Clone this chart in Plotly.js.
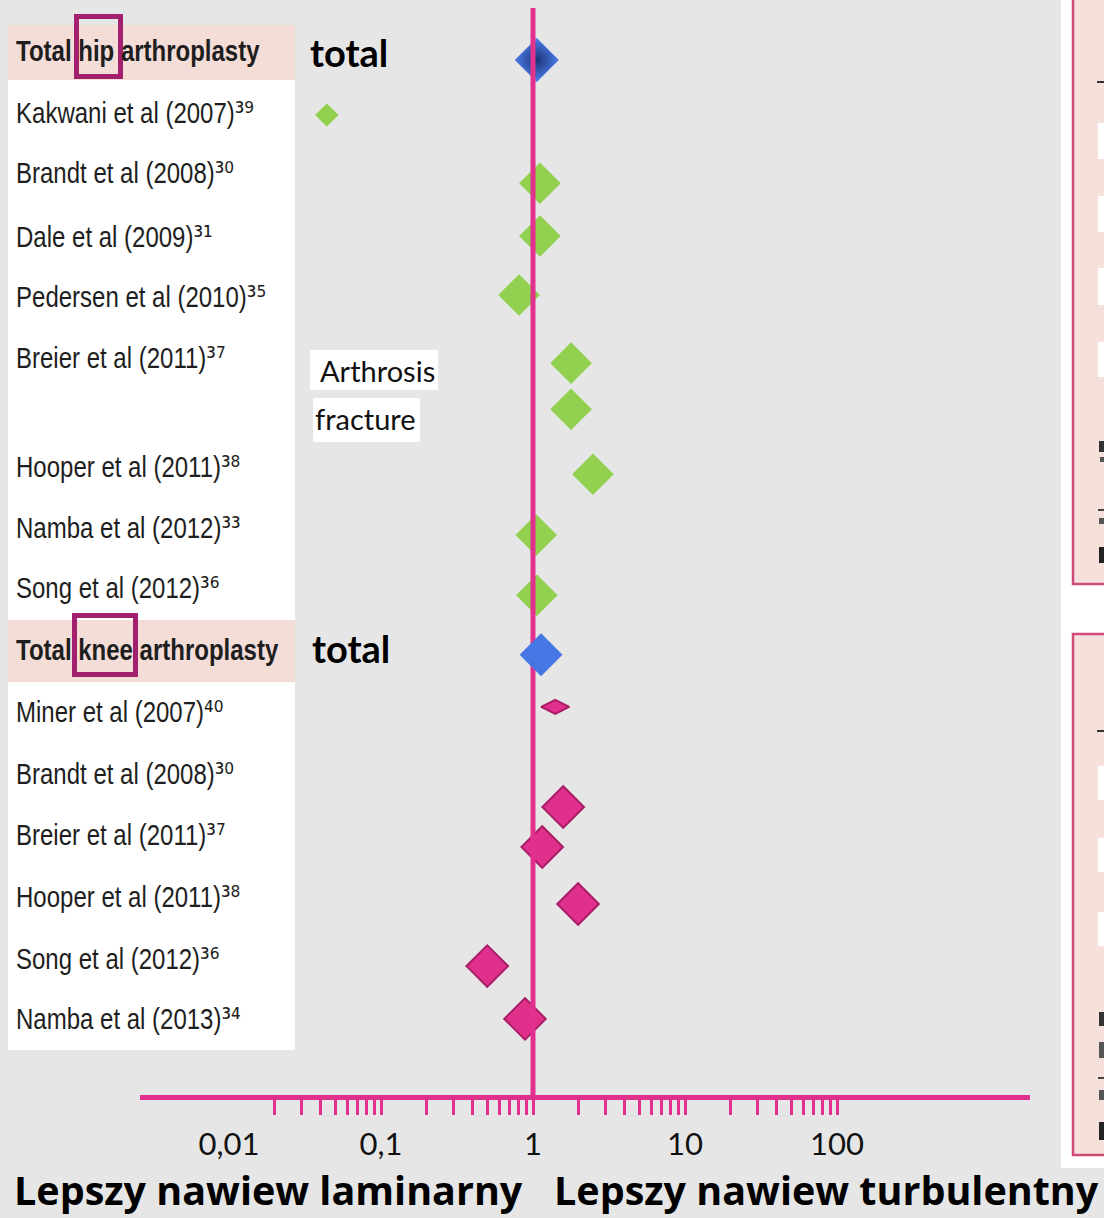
<!DOCTYPE html>
<html>
<head>
<meta charset="utf-8">
<script src="https://cdn.plot.ly/plotly-3.0.1.min.js"></script>
<style>
  html, body { margin: 0; padding: 0; background: #e6e6e6; }
  #chart { width: 1104px; height: 1218px; }
</style>
</head>
<body>
<div id="chart"></div>
<script>
// ---------------- DATA ----------------
const hipHeader = 'Total hip arthroplasty';
const kneeHeader = 'Total knee arthroplasty';

const hipStudies = ['Kakwani et al (2007)', 'Brandt et al (2008)', 'Dale et al (2009)', 'Pedersen et al (2010)',
                    'Breier et al (2011)', 'Hooper et al (2011)', 'Namba et al (2012)', 'Song et al (2012)'];
const hipRefs = ['39', '30', '31', '35', '37', '38', '33', '36'];
const hipLabelRows = [1.01, 2.0, 3.03, 4.02, 5.0, 6.78, 7.77, 8.76];

const kneeStudies = ['Miner et al (2007)', 'Brandt et al (2008)', 'Breier et al (2011)', 'Hooper et al (2011)',
                     'Song et al (2012)', 'Namba et al (2013)'];
const kneeRefs = ['40', '30', '37', '38', '36', '34'];
const kneeLabelRows = [10.78, 11.78, 12.77, 13.78, 14.79, 15.78];

// effect estimates (risk ratio, log scale) and their row positions
const hipValues = [0.044, 1.11, 1.11, 0.81, 1.78, 1.78, 2.48, 1.05, 1.06];
const hipRows   = [1.06, 2.17, 3.03, 3.99, 5.10, 5.85, 6.91, 7.90, 8.88];
const kneeValues = [1.40, 1.58, 1.15, 1.98, 0.50, 0.886];
const kneeRows   = [10.70, 12.33, 12.98, 13.91, 14.92, 15.78];
const totalValues = [1.06, 1.13];
const totalRows   = [0.163, 9.85];
const noEffect = 1;
const totalLabel = 'total';
const subLabels = ['Arthrosis', 'fracture'];
const subLabelRows = [5.22, 6.0];

const axisLabelVals = [0.01, 0.1, 1, 10, 100];
const axisLabelText = ['0,01', '0,1', '1', '10', '100'];
const minorTickVals = [0.02, 0.03, 0.04, 0.05, 0.06, 0.07, 0.08, 0.09, 0.1,
                       0.2, 0.3, 0.4, 0.5, 0.6, 0.7, 0.8, 0.9, 1,
                       2, 3, 4, 5, 6, 7, 8, 9, 10,
                       20, 30, 40, 50, 60, 70, 80, 90, 100];
const leftCaption = 'Lepszy nawiew laminarny';
const rightCaption = 'Lepszy nawiew turbulentny';

// ---------------- STYLE ----------------
const hipSizes = [18, 32, 32, 32, 32, 32, 32, 32, 32];
const kneeSizes = [20, 32, 32, 32, 32, 32];
const kneeSymbols = ['diamond-wide', 'diamond', 'diamond', 'diamond', 'diamond', 'diamond'];
const MAG = '#e2308e';
const GREEN = '#92d050';
const PINK = '#e0308c';
const PINK_EDGE = '#a81d66';
const PURPLE = '#a3206e';
const HEADER_BG = '#f4dcd7';
const NARROW = '"Liberation Sans", Arial, sans-serif';
const NARROW_SCALE = 0.8;
const CAL = 'Lato, "Open Sans", sans-serif';
const CAPF = '"Open Sans", Lato, sans-serif';

const SUP = {'0': '⁰', '1': '¹', '2': '²', '3': '³', '4': '⁴', '5': '⁵', '6': '⁶', '7': '⁷', '8': '⁸', '9': '⁹'};
const sup = s => '<span style="font-family:\'DejaVu Sans\'">' + s.split('').map(c => SUP[c] || c).join('') + '</span>';

// plot area in pixels
const L = 140, R = 1030, T = 8, B = 1095;
const P = x => (x - L) / (R - L);
const Q = y => (B - y) / (B - T);
const rowPx = 61.4, row0 = 50;
const yRange = [(B - row0) / rowPx, (T - row0) / rowPx];

function rect(x0, x1, y0, y1, fill, lineColor, lineWidth, layer) {
  return {type: 'rect', xref: 'paper', yref: 'paper', x0: P(x0), x1: P(x1), y0: Q(y1), y1: Q(y0),
          fillcolor: fill, line: {color: lineColor || 'rgba(0,0,0,0)', width: lineWidth || 0}, layer: layer || 'below'};
}

const shapes = [
  // right-side cropped panel
  rect(1061, 1120, -5, 1168, '#ffffff'),
  rect(1073, 1120, -5, 584, '#f5e0dc', '#d04a78', 2.5),
  rect(1098, 1120, 123, 159, '#ffffff'),
  rect(1098, 1120, 196, 232, '#ffffff'),
  rect(1098, 1120, 268, 305, '#ffffff'),
  rect(1098, 1120, 342, 377, '#ffffff'),
  rect(1097, 1110, 81, 83, '#333333'),
  rect(1099, 1110, 441, 452, '#333333'),
  rect(1100, 1110, 457, 462, '#555555'),
  rect(1098, 1110, 509, 511, '#444444'),
  rect(1099, 1110, 518, 524, '#555555'),
  rect(1099, 1110, 547, 563, '#222222'),
  rect(1073, 1120, 634, 1155, '#f5e0dc', '#d04a78', 2.5),
  rect(1098, 1120, 766, 800, '#ffffff'),
  rect(1098, 1120, 838, 872, '#ffffff'),
  rect(1098, 1120, 912, 946, '#ffffff'),
  rect(1097, 1110, 730, 732, '#333333'),
  rect(1099, 1110, 1012, 1026, '#333333'),
  rect(1099, 1110, 1042, 1058, '#555555'),
  rect(1098, 1110, 1077, 1079, '#444444'),
  rect(1099, 1110, 1090, 1100, '#555555'),
  rect(1099, 1110, 1122, 1140, '#222222'),
  // study table
  rect(8, 295, 25, 1050, '#ffffff'),
  rect(8, 295, 25, 80, HEADER_BG),
  rect(8, 295, 620, 682, HEADER_BG),
  // sub-group label boxes
  rect(310, 438, 350, 390, '#ffffff'),
  rect(313, 420, 398, 442, '#ffffff'),
  // highlight boxes
  rect(76.5, 120.5, 16.5, 76.5, 'rgba(0,0,0,0)', PURPLE, 5, 'above'),
  rect(74.5, 135.5, 615.5, 674.5, 'rgba(0,0,0,0)', PURPLE, 5, 'above')
];

const annotations = [];
function ann(text, xpx, row, font, anchor, cls) {
  annotations.push({text: text, xref: 'paper', yref: 'y', x: P(xpx), y: row, xanchor: anchor || 'left',
                    yanchor: 'middle', showarrow: false, font: font, name: cls || ''});
}
const studyFont = {family: NARROW, size: 30, color: '#1e1e1e'};
const headFont = {family: NARROW, size: 30, color: '#1e1e1e', weight: 'bold'};
ann(hipHeader, 14, 0, headFont, 'left', 'narrow');
ann(kneeHeader, 14, 9.77, headFont, 'left', 'narrow');
hipStudies.forEach((s, i) => ann(s + sup(hipRefs[i]), 14, hipLabelRows[i], studyFont, 'left', 'narrow'));
kneeStudies.forEach((s, i) => ann(s + sup(kneeRefs[i]), 14, kneeLabelRows[i], studyFont, 'left', 'narrow'));
const totalFont = {family: CAL, size: 38, color: '#000000', weight: 'bold'};
ann(totalLabel, 308, 0.03, totalFont);
ann(totalLabel, 310, 9.74, totalFont);
const subFont = {family: CAL, size: 29, color: '#111111'};
ann(subLabels[0], 318, subLabelRows[0], subFont);
ann(subLabels[1], 313, subLabelRows[1], subFont);
const capFont = {family: CAPF, size: 39.5, color: '#000000', weight: 'bold'};
annotations.push({text: leftCaption, xref: 'paper', yref: 'paper', x: P(12), y: Q(1190),
                  xanchor: 'left', yanchor: 'middle', showarrow: false, font: capFont});
annotations.push({text: rightCaption, xref: 'paper', yref: 'paper', x: P(1101), y: Q(1190),
                  xanchor: 'right', yanchor: 'middle', showarrow: false, font: capFont});

const traces = [
  {type: 'scatter', mode: 'markers', x: hipValues, y: hipRows, hoverinfo: 'skip',
   marker: {symbol: 'diamond', size: hipSizes, color: GREEN, opacity: 1, line: {width: 0}}},
  {type: 'scatter', mode: 'markers', x: kneeValues, y: kneeRows, hoverinfo: 'skip',
   marker: {symbol: kneeSymbols, size: kneeSizes, color: PINK, opacity: 1, line: {width: 2, color: PINK_EDGE}}},
  {type: 'scatter', mode: 'markers', x: [totalValues[0]], y: [totalRows[0]], hoverinfo: 'skip',
   marker: {symbol: 'diamond', size: 33, color: '#4a7ae6', opacity: 1, gradient: {type: 'radial', color: '#1c3578'},
            line: {width: 1, color: '#3c6ad8'}}},
  // line of no effect
  {type: 'scatter', mode: 'lines', x: [noEffect, noEffect], y: [yRange[1], yRange[0]], hoverinfo: 'skip',
   line: {color: MAG, width: 5}, cliponaxis: false},
  {type: 'scatter', mode: 'markers', x: [totalValues[1]], y: [totalRows[1]], hoverinfo: 'skip',
   marker: {symbol: 'diamond', size: 33, color: '#4677e4', opacity: 1, line: {width: 0}}},
  // invisible trace to activate the label axis
  {type: 'scatter', mode: 'markers', x: axisLabelVals, y: [16, 16, 16, 16, 16], xaxis: 'x2', hoverinfo: 'skip',
   marker: {opacity: 0, size: 1}}
];

const xRange = [Math.log10(1) - (533 - L) / 152, Math.log10(1) + (R - 533) / 152];

const layout = {
  width: 1104, height: 1218,
  margin: {l: L, r: 1104 - R, t: T, b: 1218 - B, pad: 0},
  paper_bgcolor: '#e6e6e6', plot_bgcolor: 'rgba(0,0,0,0)',
  showlegend: false,
  xaxis: {type: 'log', range: xRange, showgrid: false, zeroline: false,
          showline: true, linecolor: MAG, linewidth: 5,
          tickmode: 'array', tickvals: minorTickVals, ticks: 'outside', ticklen: 15, tickwidth: 3, tickcolor: MAG,
          showticklabels: false},
  xaxis2: {type: 'log', range: xRange, overlaying: 'x', side: 'bottom', anchor: 'y',
           showgrid: false, zeroline: false, showline: false, ticks: '',
           tickmode: 'array', tickvals: axisLabelVals, ticktext: axisLabelText,
           ticklabelstandoff: 28, tickfont: {family: CAL, size: 31, color: '#111111'}},
  yaxis: {range: yRange, visible: false, showgrid: false, zeroline: false},
  shapes: shapes,
  annotations: annotations
};

Plotly.newPlot('chart', traces, layout, {staticPlot: true, displayModeBar: false}).then(gd => {
  // condense the study-table text horizontally (no narrow font installed)
  const nodes = gd.querySelectorAll('.annotation');
  nodes.forEach((node, i) => {
    if (layout.annotations[i] && layout.annotations[i].name === 'narrow') {
      const txt = node.querySelector('text.annotation-text');
      if (!txt) return;
      const bb = txt.getBBox();
      const x0 = bb.x;
      txt.setAttribute('transform', 'translate(' + x0 + ',0) scale(' + NARROW_SCALE + ',1) translate(' + (-x0) + ',0)');
    }
  });
});
</script>
</body>
</html>
